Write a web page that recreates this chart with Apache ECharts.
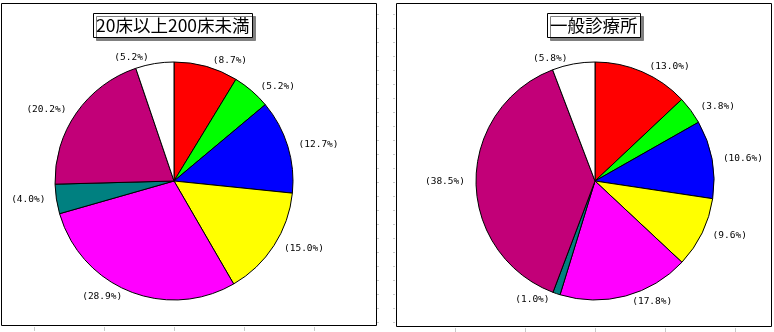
<!DOCTYPE html>
<html><head><meta charset="utf-8">
<script src="https://cdn.jsdelivr.net/npm/echarts@6/dist/echarts.min.js"></script>
<style>html,body{margin:0;padding:0;background:#fff}#c{width:774px;height:332px}</style>
</head><body><div id="c"></div>
<script>
const titles = ['20床以上200床未満', '一般診療所'];
const categories = ['A','B','C','D','E','F','G','H'];
const colors = ['#FF0000','#00FF00','#0000FF','#FFFF00','#FF00FF','#008080','#C20078','#FFFFFF'];
const valuesLeft = [8.7, 5.2, 12.7, 15.0, 28.9, 4.0, 20.2, 5.2];
const valuesRight = [13.0, 3.8, 10.6, 9.6, 17.8, 1.0, 38.5, 5.8];

const chart = echarts.init(document.getElementById('c'), null, {renderer:'canvas'});
function mkData(vals){
  return vals.map((v,i)=>({name:categories[i], value:v, itemStyle:{color:colors[i]}}));
}
function mkSeries(vals, cx){
  return {
    type:'pie', center:[cx,181], radius:119, startAngle:90, clockwise:true,
    avoidLabelOverlap:false, animation:false, silent:true,
    itemStyle:{borderColor:'#000', borderWidth:1},
    label:{show:true, position:'outside', formatter:p=>'('+p.value.toFixed(1)+'%)',
      fontFamily:'DejaVu Sans Mono', fontSize:9.5, color:'#000'},
    labelLine:{show:false, length:6, length2:0},
    data:mkData(vals)
  };
}
const titleStyle = {fontFamily:'Noto Sans CJK JP', fontSize:17.5, fontWeight:'normal', color:'#000', lineHeight:19};
const ticks = [];
function vline(x,y1,y2){ticks.push({type:'line', shape:{x1:x,y1:y1,x2:x,y2:y2}, style:{stroke:'#c8c8c8', lineWidth:1}, z:-2});}
function hline(x1,x2,y){ticks.push({type:'line', shape:{x1:x1,y1:y,x2:x2,y2:y}, style:{stroke:'#c8c8c8', lineWidth:1}, z:-2});}
for(let y=14.5; y<326; y+=14){ hline(377,379,y); hline(393,395,y); }
[34,104,174,244,314].forEach(x=>vline(x+0.5,327,331));
[455,525,595,665,735].forEach(x=>vline(x+0.5,328,332));
chart.setOption({
  backgroundColor:'#fff',
  title:[
    {text:titles[0], left:93, top:13, padding:[3,3,3,3], textStyle:titleStyle,
     backgroundColor:'#fff', borderColor:'#000', borderWidth:1,
     shadowColor:'#808080', shadowOffsetX:3, shadowOffsetY:3, shadowBlur:0},
    {text:titles[1], left:547, top:13, padding:[3,3,3,3], textStyle:titleStyle,
     backgroundColor:'#fff', borderColor:'#000', borderWidth:1,
     shadowColor:'#808080', shadowOffsetX:3, shadowOffsetY:3, shadowBlur:0}
  ],
  graphic:[
    {type:'rect', shape:{x:1.5,y:3.5,width:375,height:322}, style:{fill:null, stroke:'#000', lineWidth:1}, z:-1},
    {type:'rect', shape:{x:396.5,y:3.5,width:375,height:323}, style:{fill:null, stroke:'#000', lineWidth:1}, z:-1}
  ].concat(ticks),
  series:[mkSeries(valuesLeft,174), mkSeries(valuesRight,595)]
});
</script></body></html>
